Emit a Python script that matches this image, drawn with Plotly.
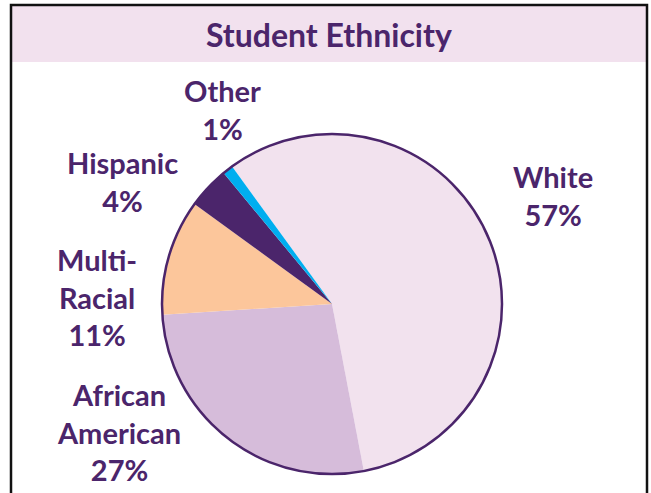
import plotly.graph_objects as go

# Student ethnicity breakdown (percent of enrolment)
categories = ["White", "African American", "Multi-Racial", "Hispanic", "Other"]
label_lines = [["White"], ["African", "American"], ["Multi-", "Racial"], ["Hispanic"], ["Other"]]
shares = [57, 27, 11, 4, 1]
slice_colors = ["#f2e2ee", "#d6bcda", "#fcc69b", "#4b256b", "#00aeef"]

W, H = 651, 493
PURPLE = "#4b256b"
FONT = "Lato"


def px_x(x):
    return x / W


def px_y(y):
    return 1 - y / H


# pie placement (pixels): centre and radius
cx, cy, r = 332, 304, 170

fig = go.Figure()
fig.add_trace(go.Pie(
    labels=categories,
    values=shares,
    sort=False,
    direction="clockwise",
    rotation=-36,
    marker=dict(colors=slice_colors, line=dict(width=0)),
    textinfo="none",
    hoverinfo="label+percent",
    showlegend=False,
    domain=dict(x=[px_x(cx - r), px_x(cx + r)], y=[px_y(cy + r), px_y(cy - r)]),
))

shapes = [
    # header band
    dict(type="rect", xref="paper", yref="paper", layer="below",
         x0=px_x(12), x1=px_x(646), y0=px_y(62), y1=px_y(6),
         fillcolor="#f2e1ee", line=dict(width=0)),
    # frame
    dict(type="rect", xref="paper", yref="paper", layer="above",
         x0=px_x(11), x1=px_x(647), y0=px_y(520), y1=px_y(5),
         fillcolor="rgba(0,0,0,0)", line=dict(color="#111111", width=2.5)),
    # outer ring of the pie
    dict(type="circle", xref="paper", yref="paper", layer="above",
         x0=px_x(cx - r), x1=px_x(cx + r), y0=px_y(cy + r), y1=px_y(cy - r),
         line=dict(color=PURPLE, width=2.5)),
]

# label blocks: (x centre px, y centre px)
label_pos = {
    "White": (553, 195),
    "African American": (119, 432),
    "Multi-Racial": (97, 297),
    "Hispanic": (123, 182),
    "Other": (222, 110),
}

annotations = [
    dict(text="Student Ethnicity", xref="paper", yref="paper",
         x=px_x(329), y=px_y(35), xanchor="center", yanchor="middle",
         showarrow=False, font=dict(family=FONT, size=32, color=PURPLE, weight="bold")),
]
for cat, lines, val in zip(categories, label_lines, shares):
    x, y = label_pos[cat]
    annotations.append(dict(
        text="<br>".join(lines + [f"{val}%"]),
        xref="paper", yref="paper", x=px_x(x), y=px_y(y),
        xanchor="center", yanchor="middle", align="center", showarrow=False,
        font=dict(family=FONT, size=29, color=PURPLE, weight="bold"),
    ))

fig.update_layout(
    width=W, height=H,
    margin=dict(l=0, r=0, t=0, b=0),
    paper_bgcolor="white",
    plot_bgcolor="white",
    shapes=shapes,
    annotations=annotations,
)

fig.write_html("out.html")
